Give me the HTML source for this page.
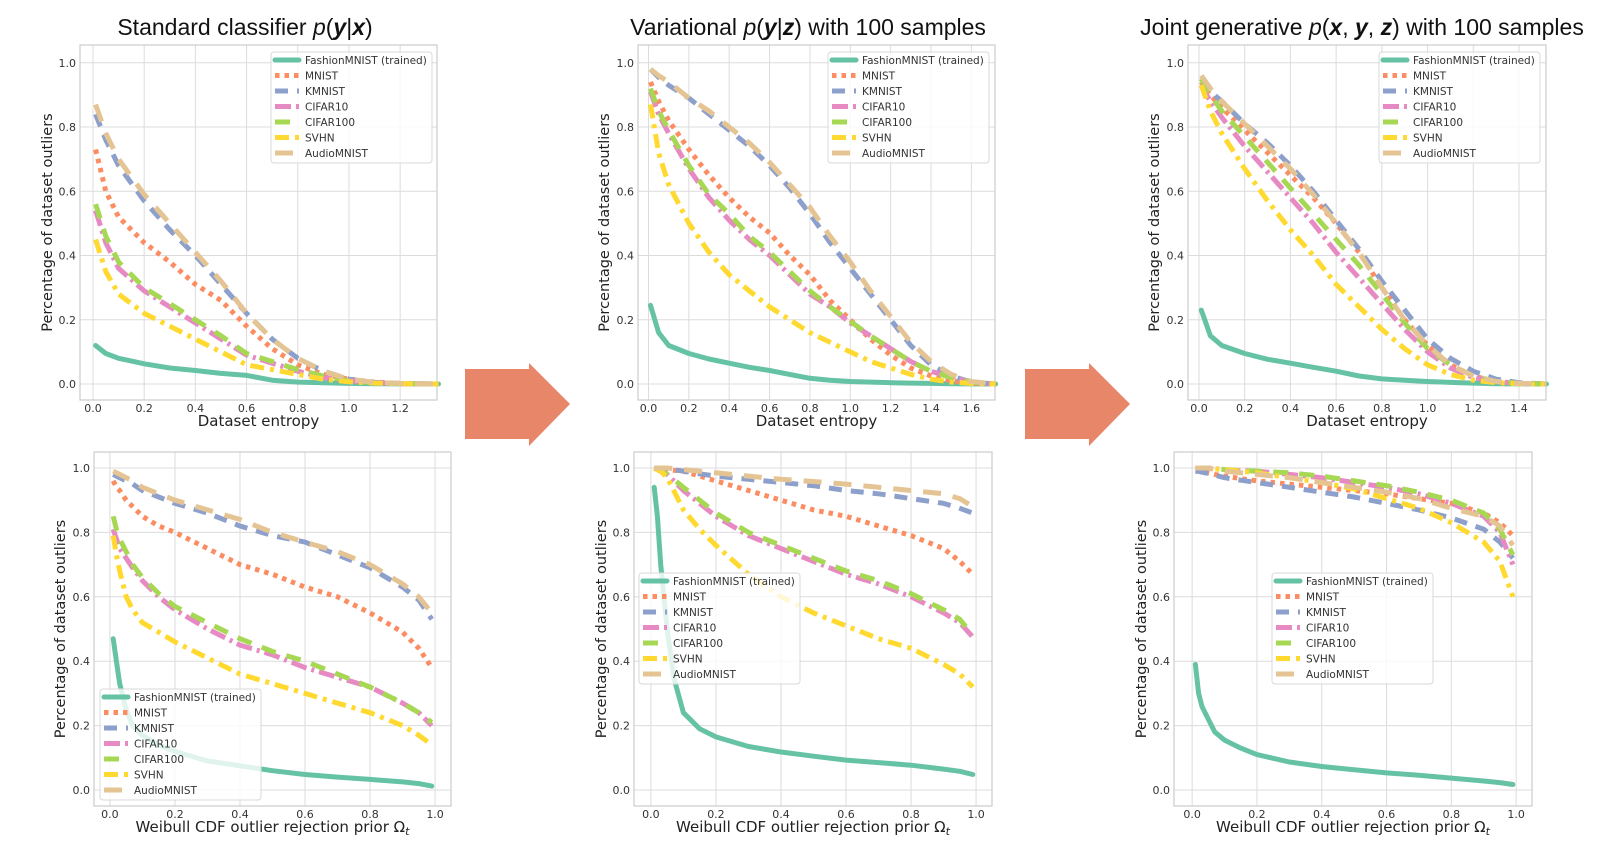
<!DOCTYPE html>
<html><head><meta charset="utf-8">
<style>
html,body{margin:0;padding:0;background:#fff;}
svg{display:block;font-family:"DejaVu Sans","Liberation Sans",sans-serif;}
</style></head>
<body>
<svg id="fig" width="1615" height="847" viewBox="0 0 1615 847" xmlns="http://www.w3.org/2000/svg">
  <polygon points="465,369 529,369 529,363 570,404 529,446 529,439 465,439" fill="#e8866a"/>
  <polygon points="1025,369 1089,369 1089,363 1130,404 1089,446 1089,439 1025,439" fill="#e8866a"/>
</svg>
<script>
// ---- shared categories ----
const seriesNames = ["FashionMNIST (trained)","MNIST","KMNIST","CIFAR10","CIFAR100","SVHN","AudioMNIST"];
const topYTicks = [0,0.2,0.4,0.6,0.8,1.0];
const yTickLabels = ["0.0","0.2","0.4","0.6","0.8","1.0"];
const tlXTicks = [0,0.2,0.4,0.6,0.8,1.0,1.2];
const tmXTicks = [0,0.2,0.4,0.6,0.8,1.0,1.2,1.4,1.6];
const trXTicks = [0,0.2,0.4,0.6,0.8,1.0,1.2,1.4];
const botXTicks = [0,0.2,0.4,0.6,0.8,1.0];

// ---- top-left: standard classifier ----
const tlX = [0.01,0.05,0.1,0.2,0.3,0.4,0.5,0.6,0.7,0.8,0.9,1.0,1.1,1.2,1.35];
const tlFashion = [0.12,0.095,0.08,0.063,0.05,0.042,0.033,0.027,0.012,0.006,0.004,0.002,0.001,0.0005,0];
const tlMNIST = [0.73,0.6,0.52,0.44,0.38,0.31,0.26,0.18,0.11,0.06,0.03,0.015,0.006,0.002,0];
const tlKMNIST = [0.84,0.76,0.68,0.57,0.48,0.4,0.31,0.22,0.14,0.08,0.04,0.015,0.005,0.002,0];
const tlCIFAR10 = [0.54,0.44,0.36,0.29,0.24,0.19,0.14,0.09,0.065,0.04,0.02,0.01,0.004,0.001,0];
const tlCIFAR100 = [0.56,0.46,0.38,0.3,0.25,0.2,0.15,0.095,0.07,0.045,0.025,0.01,0.004,0.001,0];
const tlSVHN = [0.45,0.35,0.28,0.22,0.18,0.14,0.1,0.06,0.045,0.03,0.015,0.007,0.003,0.001,0];
const tlAudio = [0.87,0.78,0.7,0.59,0.5,0.41,0.32,0.22,0.14,0.08,0.04,0.015,0.005,0.002,0];

// ---- top-middle: variational ----
const tmX = [0.01,0.05,0.1,0.2,0.3,0.4,0.5,0.6,0.7,0.8,0.9,1.0,1.1,1.2,1.3,1.4,1.5,1.6,1.72];
const tmFashion = [0.245,0.16,0.12,0.095,0.078,0.065,0.052,0.042,0.03,0.018,0.012,0.008,0.006,0.004,0.003,0.002,0.001,0.0005,0];
const tmMNIST = [0.94,0.88,0.82,0.73,0.65,0.58,0.52,0.47,0.4,0.34,0.26,0.2,0.14,0.09,0.05,0.025,0.01,0.003,0];
const tmKMNIST = [0.98,0.955,0.93,0.89,0.84,0.79,0.74,0.68,0.61,0.53,0.44,0.36,0.28,0.2,0.12,0.06,0.025,0.006,0];
const tmCIFAR10 = [0.91,0.84,0.78,0.67,0.58,0.51,0.45,0.4,0.34,0.28,0.24,0.19,0.15,0.11,0.07,0.04,0.02,0.006,0];
const tmCIFAR100 = [0.92,0.85,0.79,0.68,0.59,0.53,0.46,0.41,0.35,0.29,0.24,0.195,0.15,0.11,0.07,0.04,0.02,0.006,0];
const tmSVHN = [0.87,0.72,0.62,0.5,0.41,0.34,0.29,0.24,0.2,0.16,0.13,0.1,0.07,0.05,0.03,0.015,0.006,0.002,0];
const tmAudio = [0.98,0.96,0.94,0.89,0.85,0.8,0.75,0.69,0.62,0.55,0.46,0.38,0.29,0.21,0.13,0.07,0.03,0.008,0];

// ---- top-right: joint generative ----
const trX = [0.01,0.05,0.1,0.2,0.3,0.4,0.5,0.6,0.7,0.8,0.9,1.0,1.1,1.2,1.3,1.4,1.52];
const trFashion = [0.23,0.15,0.12,0.095,0.077,0.065,0.052,0.04,0.025,0.016,0.012,0.008,0.005,0.003,0.001,0.0005,0];
const trMNIST = [0.94,0.9,0.86,0.79,0.72,0.65,0.58,0.5,0.41,0.3,0.2,0.12,0.06,0.025,0.008,0.002,0];
const trKMNIST = [0.95,0.91,0.88,0.81,0.75,0.68,0.6,0.51,0.42,0.32,0.23,0.14,0.08,0.04,0.015,0.004,0];
const trCIFAR10 = [0.93,0.88,0.83,0.74,0.66,0.58,0.5,0.41,0.33,0.25,0.17,0.1,0.05,0.02,0.007,0.002,0];
const trCIFAR100 = [0.95,0.9,0.85,0.77,0.69,0.61,0.53,0.45,0.37,0.28,0.19,0.11,0.06,0.025,0.008,0.002,0];
const trSVHN = [0.93,0.85,0.78,0.67,0.57,0.48,0.4,0.31,0.24,0.17,0.11,0.06,0.03,0.012,0.004,0.001,0];
const trAudio = [0.96,0.92,0.88,0.81,0.74,0.67,0.59,0.5,0.41,0.3,0.2,0.12,0.06,0.025,0.008,0.002,0];

// ---- bottom row: Weibull prior ----
const botX = [0.01,0.02,0.03,0.05,0.07,0.1,0.15,0.2,0.3,0.4,0.5,0.6,0.7,0.8,0.9,0.95,0.99];
const blFashion = [0.47,0.4,0.33,0.25,0.2,0.17,0.14,0.12,0.09,0.075,0.06,0.048,0.04,0.033,0.025,0.02,0.012];
const blMNIST = [0.96,0.94,0.93,0.9,0.88,0.85,0.82,0.8,0.75,0.7,0.67,0.63,0.6,0.55,0.49,0.44,0.38];
const blKMNIST = [0.98,0.975,0.97,0.96,0.95,0.93,0.91,0.89,0.86,0.82,0.79,0.77,0.73,0.69,0.63,0.59,0.53];
const blCIFAR10 = [0.81,0.78,0.75,0.72,0.69,0.65,0.6,0.56,0.5,0.45,0.42,0.38,0.35,0.32,0.27,0.24,0.2];
const blCIFAR100 = [0.85,0.81,0.78,0.74,0.7,0.66,0.61,0.57,0.52,0.47,0.43,0.4,0.36,0.32,0.27,0.24,0.21];
const blSVHN = [0.79,0.73,0.68,0.6,0.56,0.52,0.49,0.46,0.41,0.36,0.33,0.3,0.27,0.24,0.2,0.17,0.14];
const blAudio = [0.99,0.985,0.98,0.97,0.96,0.94,0.92,0.9,0.87,0.84,0.8,0.77,0.74,0.7,0.64,0.6,0.55];

const bmFashion = [0.94,0.85,0.7,0.5,0.35,0.24,0.19,0.165,0.135,0.118,0.105,0.093,0.085,0.077,0.065,0.058,0.048];
const bmMNIST = [1,1,1,0.995,0.993,0.99,0.975,0.96,0.93,0.9,0.87,0.85,0.82,0.79,0.75,0.71,0.67];
const bmKMNIST = [1,1,1,0.998,0.995,0.99,0.982,0.975,0.965,0.955,0.945,0.93,0.92,0.905,0.89,0.875,0.86];
const bmCIFAR10 = [1,0.995,0.99,0.98,0.96,0.93,0.89,0.85,0.79,0.75,0.71,0.67,0.64,0.6,0.55,0.52,0.475];
const bmCIFAR100 = [1,0.995,0.99,0.98,0.965,0.94,0.9,0.86,0.8,0.76,0.72,0.68,0.65,0.61,0.56,0.53,0.48];
const bmSVHN = [1,0.995,0.99,0.97,0.93,0.87,0.81,0.76,0.67,0.6,0.55,0.51,0.47,0.44,0.39,0.36,0.32];
const bmAudio = [1,1,1,1,0.998,0.995,0.99,0.985,0.975,0.965,0.958,0.95,0.94,0.93,0.92,0.905,0.88];

const brFashion = [0.39,0.3,0.26,0.22,0.18,0.155,0.13,0.11,0.087,0.073,0.063,0.053,0.046,0.037,0.028,0.023,0.017];
const brMNIST = [0.99,0.99,0.988,0.985,0.98,0.975,0.967,0.96,0.95,0.94,0.93,0.92,0.905,0.89,0.86,0.83,0.79];
const brKMNIST = [0.99,0.99,0.987,0.983,0.978,0.97,0.962,0.955,0.94,0.925,0.91,0.89,0.87,0.845,0.81,0.77,0.72];
const brCIFAR10 = [1,1,1,1,0.998,0.995,0.992,0.99,0.98,0.97,0.955,0.94,0.92,0.89,0.85,0.8,0.7];
const brCIFAR100 = [1,1,1,1,0.998,0.995,0.993,0.99,0.985,0.975,0.96,0.945,0.925,0.9,0.86,0.81,0.73];
const brSVHN = [1,1,1,1,0.997,0.995,0.99,0.985,0.97,0.955,0.935,0.905,0.875,0.83,0.77,0.71,0.6];
const brAudio = [1,1,1,1,0.995,0.99,0.985,0.98,0.97,0.955,0.94,0.925,0.905,0.875,0.85,0.82,0.76];

const NS = "http://www.w3.org/2000/svg";
const svg = document.getElementById('fig');
const colors = ["#66c2a5","#fc8d62","#8da0cb","#e78ac3","#a6d854","#ffd92f","#e5c494"];
const dashes = [null,"4.5 5","13 9","16 5 3 5","15 11","14 6 4 6","18 12"];
const slug = ["fashionmnist","mnist","kmnist","cifar10","cifar100","svhn","audiomnist"];

function mk(tag, attrs, parent){
  const e = document.createElementNS(NS, tag);
  for (const k in attrs) e.setAttribute(k, attrs[k]);
  (parent||svg).appendChild(e);
  return e;
}

function panel(p){
  const g = mk('g', {});
  
  
  const sx = v => p.x0 + (v - p.xmin) / (p.xmax - p.xmin) * (p.x1 - p.x0);
  const sy = v => p.y1 - (v - p.ymin) / (p.ymax - p.ymin) * (p.y1 - p.y0);
  p.xticks.forEach((t,i) => {
    const l = mk('line', {x1:sx(t), x2:sx(t), y1:p.y0, y2:p.y1, stroke:'#dcdcdc', 'stroke-width':1}, g);
    
    
    const tx = mk('text', {x:sx(t), y:p.y1+12, 'font-size':11, fill:'#333', 'text-anchor':'middle'}, g);
    tx.textContent = t.toFixed(1);
    
    
  });
  topYTicks.forEach((t,i) => {
    const l = mk('line', {x1:p.x0, x2:p.x1, y1:sy(t), y2:sy(t), stroke:'#dcdcdc', 'stroke-width':1}, g);
    
    
    const tx = mk('text', {x:p.x0-4, y:sy(t)+4, 'font-size':11, fill:'#333', 'text-anchor':'end'}, g);
    tx.textContent = yTickLabels[i];
    
    
  });
  const frame = mk('rect', {x:p.x0, y:p.y0, width:p.x1-p.x0, height:p.y1-p.y0, fill:'none', stroke:'#cccccc', 'stroke-width':1.2}, g);
  
  
  p.series.forEach((ys,k) => {
    const d = ys.map((v,i) => (i?'L':'M') + sx(p.xs[i]).toFixed(1) + ',' + sy(v).toFixed(1)).join(' ');
    const a = {d:d, fill:'none', stroke:colors[k], 'stroke-width':5, 'stroke-linejoin':'round'};
    if (dashes[k]) a['stroke-dasharray'] = dashes[k]; else a['stroke-linecap'] = 'round';
    const path = mk('path', a, g);
    
    
  });
  const lg = mk('g', {}, g);
  
  
  const bx = mk('rect', {x:p.lx, y:p.ly, width:161, height:111, rx:3, fill:'#fff', 'fill-opacity':0.8, stroke:'#d8d8d8', 'stroke-width':1}, lg);
  
  
  seriesNames.forEach((n,k) => {
    const yy = p.ly + 8 + k*15.5;
    const a = {x1:p.lx+4, x2:p.lx+28, y1:yy, y2:yy, stroke:colors[k], 'stroke-width':5};
    if (dashes[k]) a['stroke-dasharray'] = dashes[k]; else a['stroke-linecap'] = 'round';
    const h = mk('line', a, lg);
    
    
    const t = mk('text', {x:p.lx+34, y:yy+4, 'font-size':10.5, fill:'#333'}, lg);
    t.textContent = n;
    
    
  });
  const cy = (p.y0+p.y1)/2;
  const yl = mk('text', {x:p.ylx, y:cy, 'font-size':14.5, fill:'#222', 'text-anchor':'middle', transform:'rotate(-90 '+p.ylx+' '+cy+')'}, g);
  yl.textContent = 'Percentage of dataset outliers';
  
  
  const xl = mk('text', {x:(p.x0+p.x1)/2, y:p.y1+26, 'font-size':15, fill:'#222', 'text-anchor':'middle'}, g);
  if (p.weibull) {
    xl.appendChild(document.createTextNode('Weibull CDF outlier rejection prior Ω'));
    const s = mk('tspan', {'font-size':11, 'font-style':'italic', dy:3}, xl); s.textContent = 't';
  } else xl.textContent = 'Dataset entropy';
  
  
}

function title(cx, parts, name){
  const t = mk('text', {x:cx, y:35, 'font-size':23, fill:'#111', 'text-anchor':'middle', 'font-family':'"Liberation Sans", sans-serif'});
  parts.forEach(pt => {
    const s = mk('tspan', {}, t);
    if (pt[1]) s.setAttribute('font-style', 'italic');
    if (pt[2]) s.setAttribute('font-weight', 'bold');
    s.textContent = pt[0];
  });
  
  
}

const topY = {y0:45, y1:400, ymin:-0.0497, ymax:1.0553};
const botY = {y0:452, y1:806, ymin:-0.0497, ymax:1.0497};

panel(Object.assign({name:'panel-standard-entropy', x0:80, x1:437, xmin:-0.0508, xmax:1.344, xs:tlX, xticks:tlXTicks,
  series:[tlFashion,tlMNIST,tlKMNIST,tlCIFAR10,tlCIFAR100,tlSVHN,tlAudio], lx:271, ly:52, ylx:52}, topY));
panel(Object.assign({name:'panel-variational-entropy', x0:638, x1:995, xmin:-0.052, xmax:1.717, xs:tmX, xticks:tmXTicks,
  series:[tmFashion,tmMNIST,tmKMNIST,tmCIFAR10,tmCIFAR100,tmSVHN,tmAudio], lx:828, ly:52, ylx:609}, topY));
panel(Object.assign({name:'panel-joint-entropy', x0:1188, x1:1546, xmin:-0.048, xmax:1.518, xs:trX, xticks:trXTicks,
  series:[trFashion,trMNIST,trKMNIST,trCIFAR10,trCIFAR100,trSVHN,trAudio], lx:1379, ly:52, ylx:1159}, topY));
panel(Object.assign({name:'panel-standard-weibull', weibull:true, x0:94, x1:451, xmin:-0.049, xmax:1.049, xs:botX, xticks:botXTicks,
  series:[blFashion,blMNIST,blKMNIST,blCIFAR10,blCIFAR100,blSVHN,blAudio], lx:100, ly:689, ylx:65}, botY));
panel(Object.assign({name:'panel-variational-weibull', weibull:true, x0:634, x1:992, xmin:-0.052, xmax:1.049, xs:botX, xticks:botXTicks,
  series:[bmFashion,bmMNIST,bmKMNIST,bmCIFAR10,bmCIFAR100,bmSVHN,bmAudio], lx:639, ly:573, ylx:606}, botY));
panel(Object.assign({name:'panel-joint-weibull', weibull:true, x0:1174, x1:1532, xmin:-0.056, xmax:1.049, xs:botX, xticks:botXTicks,
  series:[brFashion,brMNIST,brKMNIST,brCIFAR10,brCIFAR100,brSVHN,brAudio], lx:1272, ly:573, ylx:1146}, botY));

title(245, [["Standard classifier "],["p",1],["("],["y",1,1],["|"],["x",1,1],[")"]], 'title-standard-classifier');
title(808, [["Variational "],["p",1],["("],["y",1,1],["|"],["z",1,1],[") with 100 samples"]], 'title-variational');
title(1362, [["Joint generative "],["p",1],["("],["x",1,1],[", "],["y",1,1],[", "],["z",1,1],[") with 100 samples"]], 'title-joint-generative');
</script>
</body></html>
